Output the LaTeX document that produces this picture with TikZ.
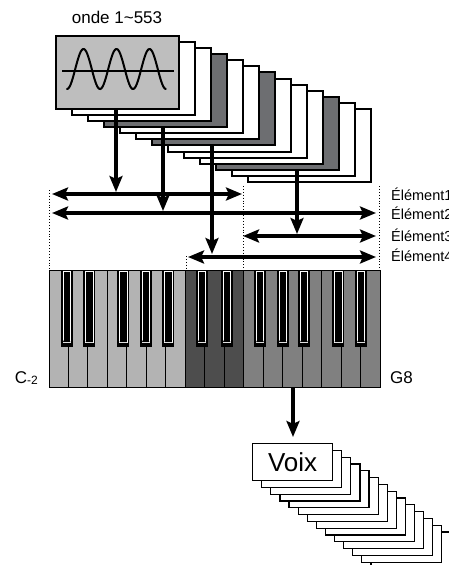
\documentclass[tikz,border=0pt]{standalone}
\usepackage{fontspec}
\setmainfont{Liberation Sans}
\usetikzlibrary{arrows.meta}
\definecolor{cardgray}{HTML}{BEBEBE}
\definecolor{carddark}{HTML}{6D6E71}
\definecolor{keyA}{HTML}{B3B3B3}
\definecolor{keyB}{HTML}{4D4D4D}
\definecolor{keyC}{HTML}{808080}
\tikzset{
  card/.style={draw, line width=2pt, anchor=north west, minimum width=123pt, minimum height=73pt, inner sep=0pt},
  voixcard/.style={draw, line width=1.2pt, fill=white, anchor=north west, minimum width=80pt, minimum height=37pt, inner sep=0pt, font=\fontsize{26}{28}\selectfont},
  bigtip/.tip={Stealth[length=16pt,width=13pt,inset=3pt]},
  downarrow/.style={line width=4pt, -bigtip},
  bothway/.style={line width=4pt, bigtip-bigtip},
  guide/.style={dotted, line width=0.9pt},
  elabel/.style={anchor=west, inner sep=0pt, font=\fontsize{14.5}{16}\selectfont},
  keylabel/.style={inner sep=0pt, font=\fontsize{17}{18}\selectfont},
  whitekey/.style={draw, line width=0.9pt},
}
\begin{document}
\begin{tikzpicture}[x=1pt, y=-1pt]
\useasboundingbox (0,0) rectangle (449,565);
% title
\node[inner sep=0pt, font=\fontsize{17}{19}\selectfont] (title) at (117,17) {onde 1\char`~553};
% wave cards (back to front)
\foreach \i in {12,...,1}{
  \pgfmathsetmacro{\cx}{55+16*\i}
  \pgfmathsetmacro{\cy}{35+6.08*\i}
  \ifnum\i=3 \def\cf{carddark}\else\ifnum\i=6 \def\cf{carddark}\else\ifnum\i=10 \def\cf{carddark}\else\def\cf{white}\fi\fi\fi
  \node[card, fill=\cf] (w\i) at (\cx,\cy) {};
}
\node[card, fill=cardgray] (w0) at (55,35) {};
% wave symbol
\draw[line width=2pt] (62,71) -- (174,71);
\draw[line width=2pt, line cap=round] plot[variable=\t, domain=0:1, samples=150, smooth] ({67+99*\t}, {69+20*cos(1080*\t)});
% dotted guides
\coordinate (g1t) at (49,190); \coordinate (g1b) at (49,270);
\coordinate (g2t) at (243,186); \coordinate (g2b) at (243,270);
\coordinate (g3t) at (379,186); \coordinate (g3b) at (379,270);
\coordinate (g4t) at (186,256); \coordinate (g4b) at (186,270);
\draw[guide] (g1t) -- (g1b);
\draw[guide] (g2t) -- (g2b);
\draw[guide] (g3t) -- (g3b);
\draw[guide] (g4t) -- (g4b);
% element ranges
\coordinate (e1l) at (52,194); \coordinate (e1r) at (242,194);
\coordinate (e2l) at (52,213); \coordinate (e2r) at (376,213);
\coordinate (e3l) at (243,236); \coordinate (e3r) at (376,236);
\coordinate (e4l) at (188,257); \coordinate (e4r) at (376,257);
\draw[bothway] (e1l) -- (e1r);
\draw[bothway] (e2l) -- (e2r);
\draw[bothway] (e3l) -- (e3r);
\draw[bothway] (e4l) -- (e4r);
% arrows from cards
\coordinate (a1) at (116,192);
\coordinate (a2) at (163,211);
\coordinate (a3) at (212,254);
\coordinate (a4) at (297,234);
\draw[downarrow] (a1 |- w0.south) -- (a1);
\draw[downarrow] (a2 |- w3.south) -- (a2);
\draw[downarrow] (a3 |- w6.south) -- (a3);
\draw[downarrow] (a4 |- w10.south) -- (a4);
% labels
\node[elabel] (l1) at (391,194) {Élément1};
\node[elabel] (l2) at (391,213) {Élément2};
\node[elabel] (l3) at (391,235) {Élément3};
\node[elabel] (l4) at (391,255) {Élément4};
% keyboard
\foreach \k in {0,...,16}{
  \pgfmathsetmacro{\kx}{49+19.47*\k}
  \pgfmathsetmacro{\kr}{49+19.47*(\k+1)}
  \ifnum\k<7 \def\kf{keyA}\else\ifnum\k<10 \def\kf{keyB}\else\def\kf{keyC}\fi\fi
  \draw[whitekey, fill=\kf] (\kx,270) rectangle (\kr,387);
}
\foreach \c in {66.7,89.3,123.3,145.7,168.3,201.7,226.7,260,282.7,304,338.3,361}{
  \fill[black] (\c-6,270) rectangle (\c+6,347);
  \draw[white, line width=0.8pt] (\c-3.8,271.5) -- (\c-3.8,342) -- (\c+3.8,342) -- (\c+3.8,271.5) -- cycle;
  \fill[black] (\c-3.8,342) .. controls (\c-2.5,336.5) and (\c+2.5,336.5) .. (\c+3.8,342) -- cycle;
}
\draw[line width=0.9pt] (49,270) rectangle (380,387);
\coordinate (kb) at (293,387);
\node[keylabel, anchor=east] (cm2) at (38,378) {C\raisebox{-0.5pt}{\fontsize{12}{13}\selectfont -2}};
\node[keylabel, anchor=west] (g8) at (390,378) {G8};
% voice stack
\foreach \i in {13,...,1}{
  \pgfmathsetmacro{\vx}{252+9.1*\i}
  \pgfmathsetmacro{\vy}{443+6.8*\i}
  \node[voixcard] (v\i) at (\vx,\vy) {};
}
\node[voixcard] (v0) at (252,443) {Voix};
\coordinate (vt) at (293,437);
\draw[downarrow] (kb) -- (vt);
\end{tikzpicture}
\end{document}
